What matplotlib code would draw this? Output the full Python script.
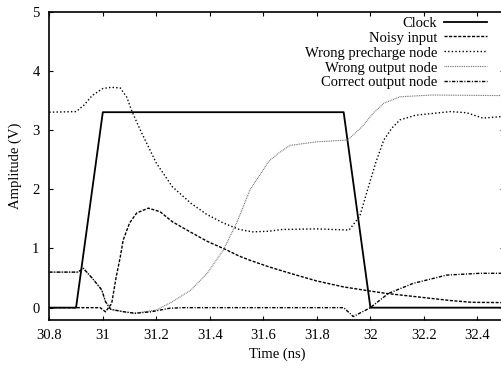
"""
Transient response of the precharge circuit with a noisy input
Clock, noisy input and the precharge / output nodes over one clock cycle
"""

import matplotlib
matplotlib.use('Agg')
import matplotlib.pyplot as plt
from matplotlib.ticker import MultipleLocator, FuncFormatter

# Clock waveform
clock_t = [30.8, 30.9, 31.0, 31.9, 32.0, 32.5]
clock_v = [0.0, 0.0, 3.3, 3.3, 0.0, 0.0]

# Noisy input
noisy_t = [30.8, 30.99, 31.01, 31.033, 31.05, 31.065, 31.076, 31.1, 31.127, 31.17,
           31.214, 31.26, 31.33, 31.39, 31.46, 31.51, 31.55, 31.62, 31.7, 31.8,
           31.9, 32.0, 32.06, 32.14, 32.22, 32.3, 32.38, 32.5]
noisy_v = [0.0, 0.0, -0.07, 0.07, 0.52, 0.85, 1.14, 1.43, 1.6, 1.68,
           1.62, 1.45, 1.27, 1.12, 0.98, 0.87, 0.8, 0.69, 0.58, 0.45,
           0.35, 0.28, 0.24, 0.2, 0.16, 0.12, 0.09, 0.085]

# Wrong precharge node
prech_t = [30.8, 30.9, 30.93, 30.96, 31.0, 31.03, 31.065, 31.09, 31.11, 31.14,
           31.2, 31.26, 31.33, 31.39, 31.45, 31.51, 31.56, 31.62, 31.67, 31.8,
           31.92, 31.96, 31.99, 32.02, 32.05, 32.08, 32.11, 32.17, 32.3, 32.36,
           32.42, 32.5]
prech_v = [3.3, 3.31, 3.42, 3.58, 3.7, 3.72, 3.71, 3.55, 3.3, 3.0,
           2.44, 2.04, 1.76, 1.57, 1.43, 1.32, 1.28, 1.29, 1.32, 1.33,
           1.31, 1.54, 2.0, 2.45, 2.83, 3.03, 3.17, 3.25, 3.31, 3.29,
           3.2, 3.23]

# Wrong output node
wout_t = [30.8, 30.907, 30.927, 30.96, 30.996, 31.01, 31.03, 31.08, 31.12, 31.14,
          31.2, 31.26, 31.33, 31.39, 31.45, 31.5, 31.55, 31.62, 31.66, 31.7,
          31.8, 31.915, 31.97, 32.01, 32.05, 32.11, 32.23, 32.5]
wout_v = [0.6, 0.6, 0.665, 0.5, 0.3, 0.1, -0.03, -0.07, -0.095, -0.08,
          -0.04, 0.1, 0.3, 0.58, 0.97, 1.43, 1.99, 2.47, 2.62, 2.74,
          2.8, 2.83, 3.06, 3.28, 3.45, 3.56, 3.59, 3.58]

# Correct output node
cout_t = [30.8, 30.907, 30.927, 30.96, 30.996, 31.01, 31.03, 31.08, 31.12, 31.18,
          31.25, 31.3, 31.9, 31.936, 32.0, 32.067, 32.16, 32.285, 32.41, 32.5]
cout_v = [0.6, 0.6, 0.665, 0.5, 0.3, 0.1, -0.03, -0.07, -0.095, -0.07,
          -0.01, 0.0, 0.0, -0.15, 0.0, 0.24, 0.41, 0.55, 0.58, 0.58]

FONT = 10.5


def create_figure():
    plt.rcParams['font.family'] = ['Liberation Serif', 'DejaVu Serif']
    plt.rcParams['font.size'] = FONT

    fig = plt.figure(figsize=(5.01, 3.71), dpi=100)
    # axes run slightly past the right edge, like the cropped original
    ax = fig.add_axes([0.0984, 0.1388, 0.908, 0.8302])

    ax.plot(clock_t, clock_v, color='black', lw=1.3, label='Clock')
    ax.plot(noisy_t, noisy_v, color='black', lw=1.0,
            linestyle=(0, (2.2, 1.1)), label='Noisy input')
    ax.plot(prech_t, prech_v, color='black', lw=1.0,
            linestyle=(0, (1.0, 1.6)), label='Wrong precharge node')
    ax.plot(wout_t, wout_v, color='0.4', lw=0.8,
            linestyle=(0, (0.8, 0.8)), label='Wrong output node')
    ax.plot(cout_t, cout_v, color='black', lw=1.0,
            linestyle=(0, (2.4, 1.1, 0.8, 1.1)), label='Correct output node')

    ax.set_xlim(30.8, 32.5)
    ax.set_ylim(-0.2, 5)
    ax.xaxis.set_major_locator(MultipleLocator(0.2))
    ax.yaxis.set_major_locator(MultipleLocator(1))
    ax.xaxis.set_major_formatter(FuncFormatter(lambda v, p: '%g' % round(v, 1)))

    ax.tick_params(direction='in', length=3, width=0.8, pad=7,
                   top=True, right=True, labelsize=FONT)
    for sp in ax.spines.values():
        sp.set_linewidth(1.2)

    ax.set_xlabel('Time (ns)', fontsize=FONT)
    ax.set_ylabel('Amplitude (V)', fontsize=FONT)
    ax.xaxis.set_label_coords(0.5, -0.0925)
    ax.yaxis.set_label_coords(-0.06, 0.5)

    ax.legend(loc='upper right', bbox_to_anchor=(0.962, 0.984), frameon=False,
              markerfirst=False, fontsize=FONT, handlelength=2.95,
              handletextpad=0.48, labelspacing=0.12, borderpad=0,
              borderaxespad=0)

    fig.savefig('out.png', dpi=100)
    plt.close(fig)


def main():
    create_figure()


if __name__ == '__main__':
    main()
